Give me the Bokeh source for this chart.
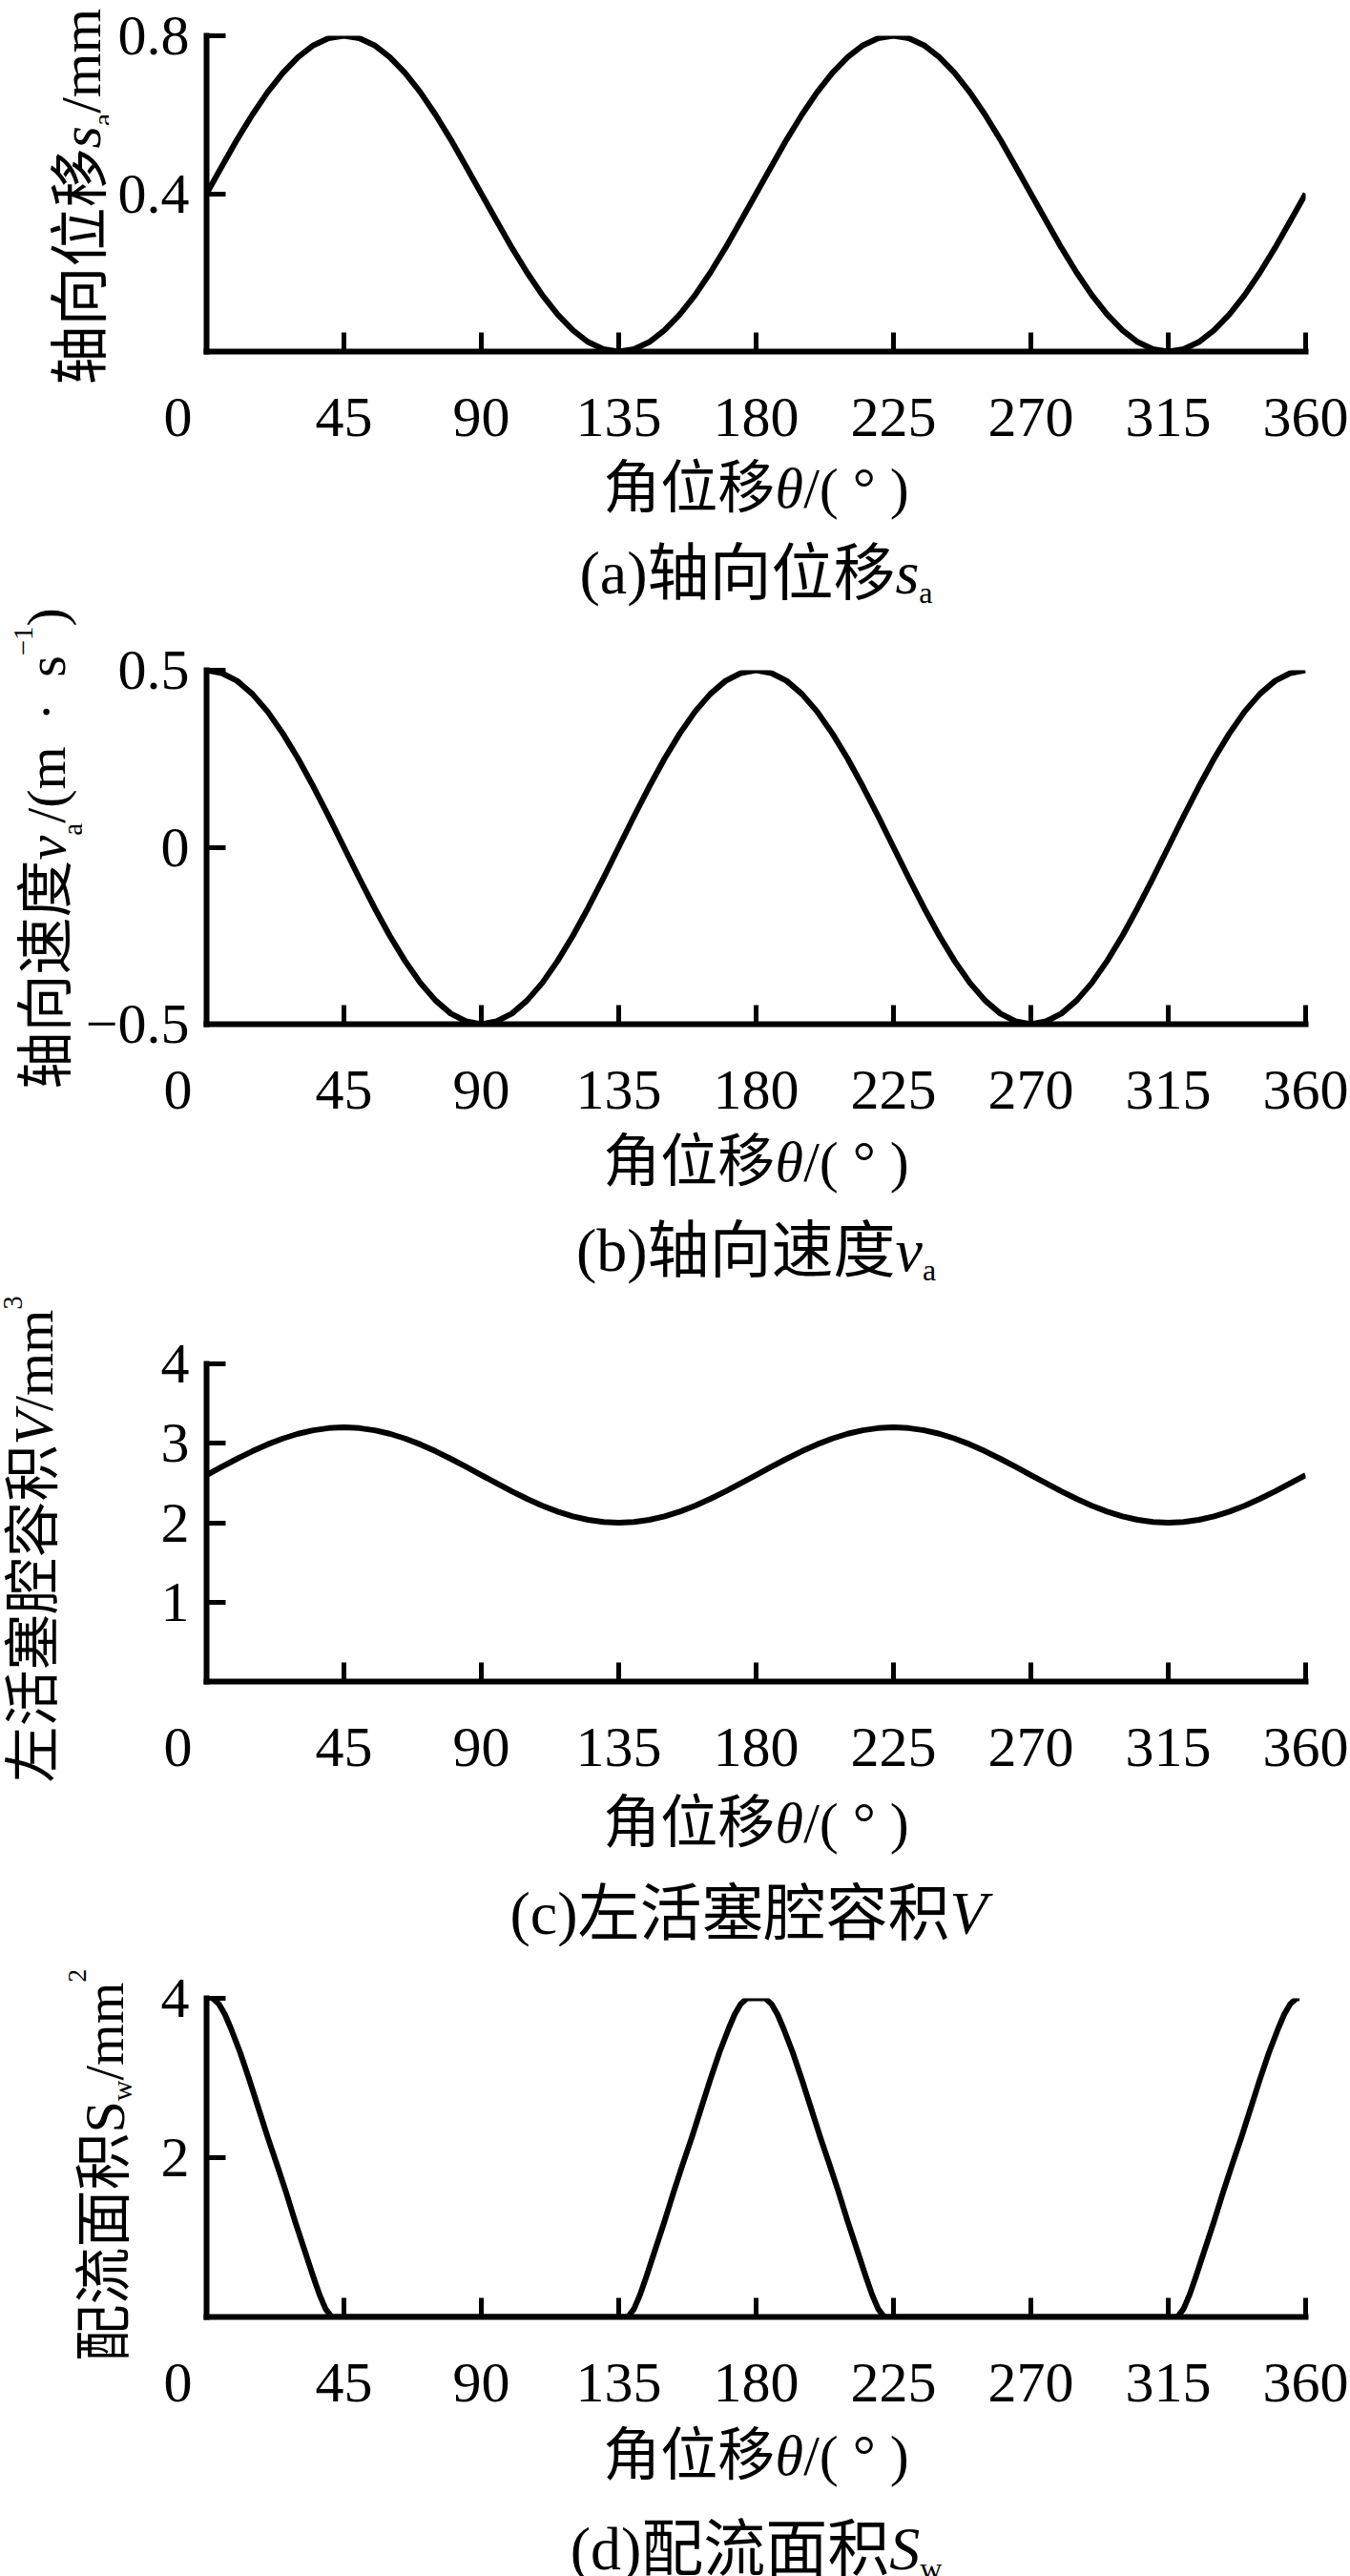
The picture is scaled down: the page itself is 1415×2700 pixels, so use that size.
import math
from bokeh.plotting import figure
from bokeh.models import Range1d, FixedTicker, Label, CustomJSTickFormatter
from bokeh.layouts import column, row
from bokeh.embed import file_html
from bokeh.resources import INLINE

# ---------------- data ----------------
theta = [0, 5, 10, 15, 20, 25, 30, 35, 40, 45, 50, 55, 60, 65, 70, 75, 80, 85, 90,
         95, 100, 105, 110, 115, 120, 125, 130, 135, 140, 145, 150, 155, 160, 165, 170, 175, 180,
         185, 190, 195, 200, 205, 210, 215, 220, 225, 230, 235, 240, 245, 250, 255, 260, 265, 270,
         275, 280, 285, 290, 295, 300, 305, 310, 315, 320, 325, 330, 335, 340, 345, 350, 355, 360]

s_a = [0.400, 0.469, 0.537, 0.600, 0.657, 0.706, 0.746, 0.776, 0.794, 0.800, 0.794, 0.776, 0.746,
       0.706, 0.657, 0.600, 0.537, 0.469, 0.400, 0.331, 0.263, 0.200, 0.143, 0.094, 0.054, 0.024,
       0.006, 0.000, 0.006, 0.024, 0.054, 0.094, 0.143, 0.200, 0.263, 0.331, 0.400,
       0.469, 0.537, 0.600, 0.657, 0.706, 0.746, 0.776, 0.794, 0.800, 0.794, 0.776, 0.746,
       0.706, 0.657, 0.600, 0.537, 0.469, 0.400, 0.331, 0.263, 0.200, 0.143, 0.094, 0.054, 0.024,
       0.006, 0.000, 0.006, 0.024, 0.054, 0.094, 0.143, 0.200, 0.263, 0.331, 0.400]

v_a = [0.500, 0.492, 0.470, 0.433, 0.383, 0.321, 0.250, 0.171, 0.087, 0.000, -0.087, -0.171, -0.250,
       -0.321, -0.383, -0.433, -0.470, -0.492, -0.500, -0.492, -0.470, -0.433, -0.383, -0.321, -0.250,
       -0.171, -0.087, 0.000, 0.087, 0.171, 0.250, 0.321, 0.383, 0.433, 0.470, 0.492, 0.500,
       0.492, 0.470, 0.433, 0.383, 0.321, 0.250, 0.171, 0.087, 0.000, -0.087, -0.171, -0.250,
       -0.321, -0.383, -0.433, -0.470, -0.492, -0.500, -0.492, -0.470, -0.433, -0.383, -0.321, -0.250,
       -0.171, -0.087, 0.000, 0.087, 0.171, 0.250, 0.321, 0.383, 0.433, 0.470, 0.492, 0.500]

vol = [2.600, 2.704, 2.805, 2.900, 2.986, 3.060, 3.120, 3.164, 3.191, 3.200, 3.191, 3.164, 3.120,
       3.060, 2.986, 2.900, 2.805, 2.704, 2.600, 2.496, 2.395, 2.300, 2.214, 2.140, 2.080, 2.036,
       2.009, 2.000, 2.009, 2.036, 2.080, 2.140, 2.214, 2.300, 2.395, 2.496, 2.600,
       2.704, 2.805, 2.900, 2.986, 3.060, 3.120, 3.164, 3.191, 3.200, 3.191, 3.164, 3.120,
       3.060, 2.986, 2.900, 2.805, 2.704, 2.600, 2.496, 2.395, 2.300, 2.214, 2.140, 2.080, 2.036,
       2.009, 2.000, 2.009, 2.036, 2.080, 2.140, 2.214, 2.300, 2.395, 2.496, 2.600]

theta_sw = [2, 4, 6, 8, 11, 14, 17, 20, 23, 26, 29, 32, 35, 37, 39, 41,
            138, 140, 142, 144, 147, 150, 153, 156, 159, 162, 165, 168, 171, 173, 175, 177,
            183, 185, 187, 189, 192, 195, 198, 201, 204, 207, 210, 213, 216, 218, 220, 222,
            318, 320, 322, 324, 327, 330, 333, 336, 339, 342, 345, 348, 351, 353, 355, 357, 358]
s_w = [4.00, 3.93, 3.80, 3.62, 3.32, 2.98, 2.62, 2.26, 1.92, 1.57, 1.20, 0.85, 0.50, 0.28, 0.10, 0.00,
       0.00, 0.10, 0.28, 0.50, 0.85, 1.20, 1.57, 1.92, 2.26, 2.62, 2.98, 3.32, 3.62, 3.80, 3.93, 4.00,
       4.00, 3.93, 3.80, 3.62, 3.32, 2.98, 2.62, 2.26, 1.92, 1.57, 1.20, 0.85, 0.50, 0.28, 0.10, 0.00,
       0.00, 0.10, 0.28, 0.50, 0.85, 1.20, 1.57, 1.92, 2.26, 2.62, 2.98, 3.32, 3.62, 3.80, 3.93, 4.00, 4.00]

x_ticks = [0, 45, 90, 135, 180, 225, 270, 315, 360]
yticks_a = [0.4, 0.8]
yticks_b = [-0.5, 0, 0.5]
yticks_c = [1, 2, 3, 4]
yticks_d = [2, 4]

# ---------------- styling helpers ----------------
SERIF = "Liberation Serif"
CJK = "Noto Sans CJK SC"
FIG_W = 1415
LEFT = 216
FRAME_W = 1152
RIGHT = FIG_W - LEFT - FRAME_W
BOTTOM = 108
CX = LEFT + FRAME_W / 2.0

SERIF_W = {'(': 0.333, ')': 0.333, 'a': 0.444, 'b': 0.5, 'c': 0.444, 'd': 0.5, '/': 0.278,
           'm': 0.778, ' ': 0.25, '°': 0.4, '·': 0.25, 's': 0.389, '1': 0.5, '−': 0.564,
           '2': 0.5, '3': 0.5, 'w': 0.722, 'S': 0.556}
ITAL_W = {'s': 0.389, 'v': 0.444, 'V': 0.611, 'S': 0.5, 'θ': 0.5, ' ': 0.25}


def pw(text, kind, size):
    if kind == "cjk":
        return len(text) * size
    table = ITAL_W if kind == "italic" else SERIF_W
    return sum(table.get(ch, 0.5) for ch in text) * size


def mk_label(x, y, text, kind, size, angle=0.0):
    return Label(x=x, y=y, text=text,
                 text_font=CJK if kind == "cjk" else SERIF,
                 text_font_style="italic" if kind == "italic" else "normal",
                 text_font_size=f"{size}px", text_color="black",
                 text_align="center", text_baseline="middle", angle=angle)


def draw_row(p, pieces, cx, mid_y):
    """horizontal composite text, centred on cx; shift>0 moves a piece down"""
    total = sum(pw(t, k, s) for t, k, s, sh in pieces)
    x = cx - total / 2.0
    for t, k, s, sh in pieces:
        w = pw(t, k, s)
        p.add_layout(mk_label(x + w / 2.0, mid_y - sh, t, k, s))
        x += w


def draw_col(p, pieces, mid_x, y0):
    """vertical (rotated 90 deg) text reading upward from y0, one glyph per label;
    shift>0 moves a glyph to the right"""
    y = y0
    for t, k, s, sh in pieces:
        for ch in t:
            w = pw(ch, k, s)
            if ch != " ":
                p.add_layout(mk_label(mid_x + sh, y + w / 2.0, ch, k, s, angle=math.pi / 2))
            y += w


def blank(w, h):
    p = figure(width=w, height=h, x_range=Range1d(0, w), y_range=Range1d(0, h),
               x_axis_type=None, y_axis_type=None, output_backend="svg",
               toolbar_location=None, min_border=0)
    p.outline_line_color = None
    p.background_fill_color = "white"
    p.border_fill_color = "white"
    return p


YFMT = CustomJSTickFormatter(code="""
    const a = Math.abs(tick);
    const s = String(Math.round(a * 1000) / 1000);
    return (tick < 0 ? "\\u2212" : "") + s;
""")
XFMT = CustomJSTickFormatter(code="""
    return tick == 0 ? "0\\u00a0\\u00a0\\u00a0\\u00a0" : String(tick);
""")


def make_panel(xs, ys, y0, y1, yticks, top, frame_h, wl):
    p = figure(frame_width=FRAME_W, frame_height=frame_h,
               x_range=Range1d(0, 360), y_range=Range1d(y0, y1),
               output_backend="svg", toolbar_location=None,
               min_border_left=LEFT - wl, min_border_right=RIGHT,
               min_border_top=top, min_border_bottom=BOTTOM)
    p.outline_line_color = None
    p.xgrid.visible = False
    p.ygrid.visible = False
    p.background_fill_color = "white"
    p.border_fill_color = "white"
    p.xaxis.ticker = FixedTicker(ticks=x_ticks)
    p.xaxis.formatter = XFMT
    p.yaxis.ticker = FixedTicker(ticks=yticks)
    p.yaxis.formatter = YFMT
    for ax in (p.xaxis, p.yaxis):
        ax.axis_line_width = 6
        ax.axis_line_color = "black"
        ax.axis_line_cap = "square"
        ax.major_tick_line_width = 5
        ax.major_tick_line_color = "black"
        ax.major_tick_in = 20
        ax.major_tick_out = 0
        ax.minor_tick_line_color = None
        ax.major_label_text_font = SERIF
        ax.major_label_text_font_size = "60px"
        ax.major_label_text_color = "black"
    p.xaxis.major_label_standoff = 35
    p.yaxis.major_label_standoff = 18
    p.line(xs, ys, line_width=6, line_color="black", line_join="round")
    return p


def panel_row(xs, ys, y0, y1, yticks, top, frame_h, wl, ypieces, mid_x, ystart):
    h = top + frame_h + BOTTOM
    yl = blank(wl, h)
    draw_col(yl, ypieces, mid_x, ystart)
    main = make_panel(xs, ys, y0, y1, yticks, top, frame_h, wl)
    # the label figure is wrapped in its own column so its frame is not aligned to the plot's
    return row(column(yl, spacing=0), main, spacing=0)


def text_block(h, xl_off, cap_off, cap_pieces):
    t = blank(FIG_W, h)
    draw_row(t, [("角位移", "cjk", 60, 0), ("θ", "italic", 60, 6), ("/( ° )", "serif", 60, 6)],
             CX, h - xl_off)
    draw_row(t, cap_pieces, CX, h - cap_off)
    return t


# (a)
row_a = panel_row(theta, s_a, 0, 0.8, yticks_a, 37, 331, 114,
                  [("轴向位移", "cjk", 62, 0), ("s", "italic", 60, 6), ("a", "serif", 30, 29),
                   ("/mm", "serif", 60, 6)], 78, 73)
txt_a = text_block(160, 29, 118, [("(a)", "serif", 64, 6), ("轴向位移", "cjk", 65, 0),
                                  ("s", "italic", 64, 6), ("a", "serif", 32, 26)])

# (b)
row_b = panel_row(theta, v_a, -0.5, 0.5, yticks_b, 66, 371, 86,
                  [("轴向速度", "cjk", 60, 0), ("v", "italic", 58, 6), ("a", "serif", 29, 33),
                   ("/(m  ·  s", "serif", 58, 6), ("−1", "serif", 29, -18), (")", "serif", 58, 6)],
                  42, 40)
txt_b = text_block(169, 30, 123, [("(b)", "serif", 64, 6), ("轴向速度", "cjk", 65, 0),
                                  ("v", "italic", 64, 6), ("a", "serif", 32, 26)])

# (c)
row_c = panel_row(theta, vol, 0, 4, yticks_c, 79, 333, 78,
                  [("左活塞腔容积", "cjk", 59, 0), ("V", "italic", 58, 6), ("/mm", "serif", 58, 6),
                   ("3", "serif", 29, -16)], 29, 2)
txt_c = text_block(170, 34, 129, [("(c)", "serif", 64, 6), ("左活塞腔容积", "cjk", 65, 0),
                                  (" V", "italic", 64, 6)])

# (d)
row_d = panel_row(theta_sw, s_w, 0, 4, yticks_d, 54, 334, 150,
                  [("配流面积", "cjk", 60, 0), ("S", "serif", 60, 6), ("w", "serif", 30, 24),
                   ("/mm", "serif", 56, 6), ("2", "serif", 28, -23)], 103, 61)
txt_d = text_block(164, 31, 129, [("(d)", "serif", 64, 6), ("配流面积", "cjk", 65, 0),
                                  ("S", "italic", 64, 6), ("w", "serif", 32, 26)])

layout = column(row_a, txt_a, row_b, txt_b, row_c, txt_c, row_d, txt_d, spacing=0)
open("out.html", "w").write(file_html(layout, INLINE))
